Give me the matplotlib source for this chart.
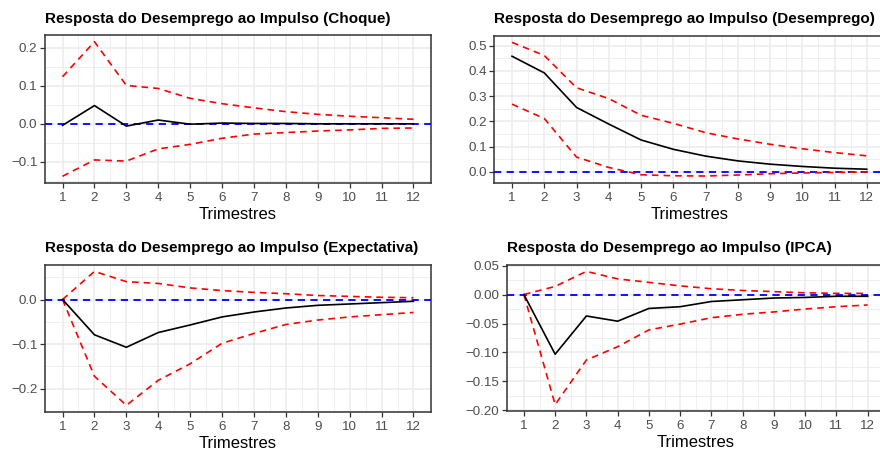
import matplotlib
matplotlib.use("Agg")
import matplotlib.pyplot as plt
from matplotlib.ticker import MultipleLocator, FixedLocator
import numpy as np

plt.rcParams['font.family'] = ['Liberation Sans', 'DejaVu Sans']

periods = list(range(1, 13))

titles = [
    "Resposta do Desemprego ao Impulso (Choque)",
    "Resposta do Desemprego ao Impulso (Desemprego)",
    "Resposta do Desemprego ao Impulso (Expectativa)",
    "Resposta do Desemprego ao Impulso (IPCA)",
]

choque_irf = [-0.004, 0.048, -0.006, 0.010, -0.001, 0.002, 0.001, 0.001, 0.000, 0.000, 0.000, 0.000]
choque_upper = [0.124, 0.216, 0.101, 0.093, 0.067, 0.053, 0.042, 0.032, 0.025, 0.020, 0.016, 0.012]
choque_lower = [-0.138, -0.095, -0.098, -0.066, -0.054, -0.038, -0.027, -0.023, -0.019, -0.016, -0.012, -0.011]

desemp_irf = [0.458, 0.392, 0.255, 0.189, 0.126, 0.089, 0.062, 0.043, 0.030, 0.021, 0.014, 0.010]
desemp_upper = [0.513, 0.461, 0.333, 0.290, 0.224, 0.192, 0.155, 0.130, 0.109, 0.091, 0.076, 0.063]
desemp_lower = [0.268, 0.211, 0.058, 0.017, -0.012, -0.016, -0.017, -0.013, -0.008, -0.005, -0.003, -0.001]

expect_irf = [0.000, -0.079, -0.107, -0.074, -0.057, -0.039, -0.028, -0.019, -0.013, -0.010, -0.007, -0.004]
expect_upper = [0.000, 0.063, 0.040, 0.036, 0.026, 0.020, 0.016, 0.013, 0.009, 0.007, 0.005, 0.004]
expect_lower = [0.000, -0.172, -0.237, -0.181, -0.144, -0.098, -0.076, -0.056, -0.046, -0.039, -0.034, -0.029]

ipca_irf = [0.000, -0.103, -0.037, -0.046, -0.024, -0.021, -0.012, -0.009, -0.006, -0.005, -0.003, -0.003]
ipca_upper = [0.000, 0.014, 0.040, 0.027, 0.021, 0.015, 0.010, 0.007, 0.005, 0.003, 0.002, 0.002]
ipca_lower = [0.000, -0.190, -0.113, -0.090, -0.061, -0.051, -0.040, -0.034, -0.030, -0.025, -0.021, -0.018]

panels = [
    (choque_irf, choque_upper, choque_lower, 0.1, 0.05, "{:.1f}"),
    (desemp_irf, desemp_upper, desemp_lower, 0.1, 0.05, "{:.1f}"),
    (expect_irf, expect_upper, expect_lower, 0.1, 0.05, "{:.1f}"),
    (ipca_irf, ipca_upper, ipca_lower, 0.05, 0.025, "{:.2f}"),
]

W, H = 880, 455
fig = plt.figure(figsize=(8.8, 4.55), dpi=100)

# panel boxes in pixels: left, top, right, bottom
boxes = [
    (45, 35, 431, 183),
    (494.3, 35.7, 884.5, 182.7),
    (45, 264.7, 431, 412),
    (506.7, 264.7, 884.9, 411.3),
]

grey20 = "#333333"
grey30 = "#4D4D4D"
gridc = "#EBEBEB"

for (irf, up, lo, major, minor, fmt), title, (l, t, r, b) in zip(panels, titles, boxes):
    ax = fig.add_axes([l / W, (H - b) / H, (r - l) / W, (b - t) / H])
    ax.set_zorder(1)
    ax.axhline(0, color="#0000FF", lw=1.3, ls=(0, (4, 3)), zorder=3)
    ax.plot(periods, up, color="#FF0000", lw=1.2, ls=(0, (4, 3)), zorder=4)
    ax.plot(periods, lo, color="#FF0000", lw=1.2, ls=(0, (4, 3)), zorder=4)
    ax.plot(periods, irf, color="black", lw=1.2, zorder=5)
    lo_all = min(min(lo), min(irf), min(up))
    hi_all = max(max(up), max(irf), max(lo))
    rng = hi_all - lo_all
    ylim = (lo_all - 0.05 * rng, hi_all + 0.05 * rng)
    ax.set_xlim(1 - 0.55, 12 + 0.55)
    ax.xaxis.set_major_locator(FixedLocator(periods))
    ax.xaxis.set_minor_locator(FixedLocator([p + 0.5 for p in periods[:-1]]))
    ax.set_ylim(*ylim)
    ax.yaxis.set_major_locator(MultipleLocator(major))
    ax.yaxis.set_minor_locator(MultipleLocator(minor))
    yt = [v for v in ax.get_yticks() if ylim[0] - 1e-9 <= v <= ylim[1] + 1e-9]
    ax.set_yticks(yt)
    ax.set_yticklabels([fmt.format(v).replace("-", "\u2212") if abs(v) > 1e-9 else fmt.format(0.0) for v in yt])
    ax.set_ylim(*ylim)
    ax.grid(True, which="major", color=gridc, lw=1.1, zorder=0)
    ax.grid(True, which="minor", color=gridc, lw=0.55, zorder=0)
    ax.set_axisbelow(True)
    for s in ax.spines.values():
        s.set_color(grey20)
        s.set_linewidth(1.1)
    ax.tick_params(which="major", length=3.5, width=0.9, color=grey20, labelcolor=grey30,
                   labelsize=9.6, pad=2)
    ax.tick_params(axis="x", which="major", pad=3)
    ax.tick_params(which="minor", length=0)
    ax.set_xlabel("Trimestres", fontsize=12, color="black", labelpad=2)
    ax.set_title(title, loc="left", fontsize=11, fontweight="bold", pad=9, x=0.0)

fig.savefig("out.png", dpi=100)
